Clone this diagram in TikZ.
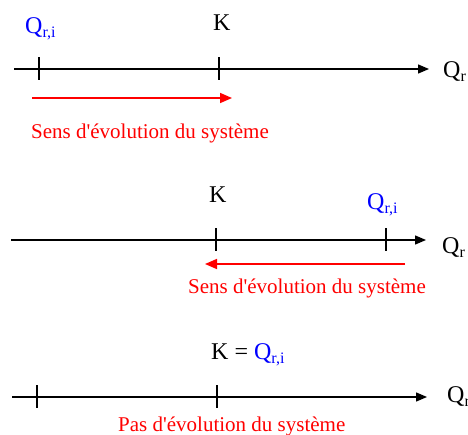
\documentclass[tikz,border=0pt]{standalone}
\usepackage{fontspec}
\setmainfont{Liberation Serif}
\usetikzlibrary{arrows.meta}
\definecolor{qblue}{RGB}{0,0,255}
\definecolor{sred}{RGB}{255,0,0}
\newcommand{\Qsub}[1]{Q\raisebox{-0.2em}{\fontsize{16}{16}\selectfont #1}}
\begin{document}
\begin{tikzpicture}[x=1pt,y=-1pt,
  axis/.style={line width=1.4pt,-{Triangle[length=11pt,width=9pt]}},
  tick/.style={line width=1.4pt},
  evo/.style={line width=1.6pt,sred,-{Triangle[length=12pt,width=10pt]}},
  lbl/.style={inner sep=0pt,anchor=base west,font=\fontsize{24}{24}\selectfont},
  redlbl/.style={inner sep=0pt,anchor=base west,font=\fontsize{21}{21}\selectfont,text=sred}]
\useasboundingbox (0,0) rectangle (468,434);
% ---------- diagram 1
\coordinate (a1s) at (14,69);
\coordinate (a1e) at (429,69);
\draw[axis] (a1s) -- (a1e);
\coordinate (t1at) at (39,57); \coordinate (t1ab) at (39,80);
\coordinate (t1bt) at (219,57); \coordinate (t1bb) at (219,80);
\draw[tick] (t1at) -- (t1ab);
\draw[tick] (t1bt) -- (t1bb);
\node[lbl,text=qblue] (q1) at (25,33) {\Qsub{r,i}};
\node[lbl] (k1) at (213,30) {K};
\node[lbl] (ax1) at (443,77) {\Qsub{r}};
\coordinate (r1s) at (32,98);
\coordinate (r1e) at (232,98);
\draw[evo] (r1s) -- (r1e);
\node[redlbl] (s1) at (31,138) {Sens d\textquotesingle évolution du système};
% ---------- diagram 2
\coordinate (a2s) at (11,240);
\coordinate (a2e) at (426,240);
\draw[axis] (a2s) -- (a2e);
\coordinate (t2at) at (216,228); \coordinate (t2ab) at (216,251);
\coordinate (t2bt) at (386,228); \coordinate (t2bb) at (386,251);
\draw[tick] (t2at) -- (t2ab);
\draw[tick] (t2bt) -- (t2bb);
\node[lbl] (k2) at (209,202) {K};
\node[lbl,text=qblue] (q2) at (367,209) {\Qsub{r,i}};
\node[lbl] (ax2) at (442,253) {\Qsub{r}};
\coordinate (r2s) at (405,264);
\coordinate (r2e) at (205,264);
\draw[evo] (r2s) -- (r2e);
\node[redlbl] (s2) at (188,293) {Sens d\textquotesingle évolution du système};
% ---------- diagram 3
\coordinate (a3s) at (12,397);
\coordinate (a3e) at (427,397);
\draw[axis] (a3s) -- (a3e);
\coordinate (t3at) at (37,385); \coordinate (t3ab) at (37,408);
\coordinate (t3bt) at (217,385); \coordinate (t3bb) at (217,408);
\draw[tick] (t3at) -- (t3ab);
\draw[tick] (t3bt) -- (t3bb);
\node[lbl] (k3) at (211,359) {K = \textcolor{qblue}{\Qsub{r,i}}};
\node[lbl] (ax3) at (447,402) {\Qsub{r}};
\node[redlbl] (s3) at (118,431) {Pas d\textquotesingle évolution du système};
\end{tikzpicture}
\end{document}
